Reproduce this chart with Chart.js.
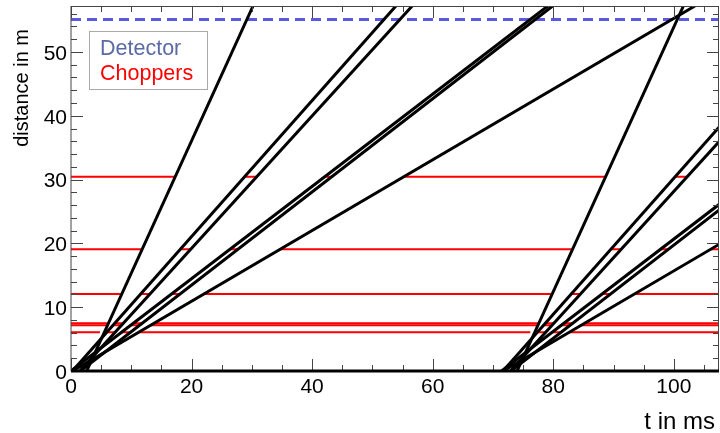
<!DOCTYPE html>
<html>
<head>
<title>Chopper time-distance diagram</title>
<script src="https://cdn.jsdelivr.net/npm/chart.js"></script>
<style>
body { margin: 0; background: #fff; }
.chart-container { position: relative; width: 720px; height: 433px; }
</style>
</head>
<body>
<div class="chart-container"><canvas id="tofChart" width="720" height="433"></canvas></div>
<script>
// neutron paths: time (ms) at the source (0 m) and time where they reach the top of the frame
const topDistance = 57.2;
const pulse1Start = [2.6, 0.24, 1.47, 0.0, 1.57, 0.27];
const pulse1Top   = [30.2, 53.9, 56.6, 79.1, 79.9, 103.5];
const pulse2Start = [74.0, 71.67, 72.9, 71.43, 73.0, 71.7];
const pulse2Top   = [101.6, 125.3, 128.0, 150.5, 151.3, 174.9];

// chopper positions (m) and the time windows (ms) where each one is closed
const chopperDist = [6.07, 7.16, 7.47, 12.07, 19.07, 30.45];
const closedA = [[0, 4.8], [5.9, 7.3], [8.4, 9.9], [11.2, 76.2], [77.4, 78.7], [79.8, 81.3], [82.7, 107.5]];
const closedB = [[0, 5.9], [7.0, 8.4], [9.9, 11.4], [13.2, 77.4], [78.4, 79.8], [81.3, 82.8], [84.6, 107.5]];
const closedC = [[0, 6.0], [7.2, 8.7], [10.3, 11.8], [13.7, 77.5], [78.7, 80.1], [81.8, 83.2], [85.2, 107.5]];
const closedD = [[0, 8.4], [11.6, 13.1], [16.7, 18.1], [22.0, 79.8], [83.0, 84.5], [88.1, 89.5], [93.5, 107.5]];
const closedE = [[0, 11.8], [18.1, 19.8], [26.4, 27.7], [34.7, 83.2], [89.6, 91.3], [97.8, 99.1], [106.1, 107.5]];
const closedF = [[0, 17.3], [28.8, 30.8], [42.1, 43.3], [55.2, 88.7], [100.2, 102.2]];
const chopperClosed = [closedA, closedB, closedC, closedD, closedE, closedF];

const detectorDist = 55.1;
const xRange = [0, 107.5];
const yRange = [0, 57.2];
const xTicks = [0, 20, 40, 60, 80, 100];
const yTicks = [0, 10, 20, 30, 40, 50];

const FONT = "'Liberation Sans', Arial, Helvetica, sans-serif";

const datasets = [];
[[pulse1Start, pulse1Top], [pulse2Start, pulse2Top]].forEach(([starts, tops]) => {
  starts.forEach((t0, i) => {
    datasets.push({
      data: [{x: t0, y: 0}, {x: tops[i], y: topDistance}],
      borderColor: '#000', borderWidth: 3, order: 0
    });
  });
});
chopperDist.forEach((d, i) => {
  const pts = [];
  chopperClosed[i].forEach(([a, b]) => {
    pts.push({x: a, y: d}, {x: b, y: d}, {x: b, y: null});
  });
  datasets.push({ data: pts, borderColor: '#ff0000', borderWidth: 2, order: 1 });
});
datasets.push({
  data: [{x: xRange[0], y: detectorDist}, {x: xRange[1], y: detectorDist}],
  borderColor: '#5a5ae0', borderWidth: 3, borderDash: [10, 6], order: 2
});
datasets.forEach(ds => { ds.showLine = true; ds.pointRadius = 0; ds.tension = 0; });

// ROOT style frame with inward ticks, axis titles and the text legend
const frame = {
  id: 'frame',
  afterDatasetsDraw(chart) {
    const {ctx, chartArea: a, scales: {x, y}} = chart;
    ctx.save();
    ctx.strokeStyle = '#444';
    ctx.lineWidth = 1;
    ctx.beginPath();
    ctx.moveTo(a.left, a.bottom); ctx.lineTo(a.left, a.top);
    ctx.moveTo(a.left, a.top + 0.5); ctx.lineTo(a.right, a.top + 0.5);
    ctx.moveTo(a.right - 0.5, a.top); ctx.lineTo(a.right - 0.5, a.bottom);
    for (let v = 0; v <= xRange[1]; v += 5) {
      const px = Math.round(x.getPixelForValue(v)) + 0.5;
      const len = v % 20 === 0 ? 12 : 6;
      ctx.moveTo(px, a.bottom); ctx.lineTo(px, a.bottom - len);
      ctx.moveTo(px, a.top); ctx.lineTo(px, a.top + len);
    }
    for (let v = 0; v <= yRange[1]; v += 2) {
      const py = Math.round(y.getPixelForValue(v)) + 0.5;
      const len = v % 10 === 0 ? 12 : 6;
      ctx.moveTo(a.left, py); ctx.lineTo(a.left + len, py);
      ctx.moveTo(a.right, py); ctx.lineTo(a.right - len, py);
    }
    ctx.stroke();
    ctx.strokeStyle = '#000';
    ctx.lineWidth = 3;
    ctx.beginPath();
    ctx.moveTo(a.left, a.bottom); ctx.lineTo(a.right, a.bottom);
    ctx.stroke();
    ctx.restore();
  },
  afterDraw(chart) {
    const {ctx} = chart;
    ctx.save();
    ctx.fillStyle = '#000';
    ctx.font = '24px ' + FONT;
    ctx.textAlign = 'right';
    ctx.textBaseline = 'alphabetic';
    ctx.fillText('t in ms', 715, 429);
    ctx.save();
    ctx.translate(27.5, 29);
    ctx.rotate(-Math.PI / 2);
    ctx.font = '20px ' + FONT;
    ctx.fillText('distance in m', 0, 0);
    ctx.restore();
    // legend box
    ctx.fillStyle = '#fff';
    ctx.fillRect(89.5, 31.5, 118, 58);
    ctx.strokeStyle = '#aaa';
    ctx.lineWidth = 1;
    ctx.strokeRect(89.5, 31.5, 118, 58);
    ctx.textAlign = 'left';
    ctx.font = '21.5px ' + FONT;
    ctx.fillStyle = '#5a6aa5';
    ctx.fillText('Detector', 100, 55);
    ctx.fillStyle = '#ff0000';
    ctx.fillText('Choppers', 100, 80);
    ctx.restore();
  }
};

const ctx = document.getElementById('tofChart').getContext('2d');
new Chart(ctx, {
  type: 'scatter',
  data: { datasets },
  options: {
    responsive: false,
    animation: false,
    devicePixelRatio: 1,
    layout: { padding: { top: 6, right: 1, left: 0, bottom: 0 } },
    plugins: { legend: { display: false }, tooltip: { enabled: false } },
    scales: {
      x: {
        type: 'linear', min: xRange[0], max: xRange[1],
        grid: { display: false, drawTicks: false },
        border: { display: false },
        ticks: { color: '#000', font: { family: FONT, size: 21 }, padding: 4, maxRotation: 0, autoSkip: false,
                 callback: v => String(v) },
        afterBuildTicks: s => { s.ticks = xTicks.map(v => ({ value: v })); },
        afterFit: s => { s.height = 62; s.paddingLeft = 0; s.paddingRight = 0; }
      },
      y: {
        type: 'linear', min: yRange[0], max: yRange[1],
        grid: { display: false, drawTicks: false },
        border: { display: false },
        ticks: { color: '#000', font: { family: FONT, size: 21 }, padding: 4, labelOffset: 2, autoSkip: false,
                 callback: v => String(v) },
        afterBuildTicks: s => { s.ticks = yTicks.map(v => ({ value: v })); },
        afterFit: s => { s.width = 71; s.paddingTop = 0; s.paddingBottom = 0; }
      }
    }
  },
  plugins: [frame]
});
</script>
</body>
</html>
